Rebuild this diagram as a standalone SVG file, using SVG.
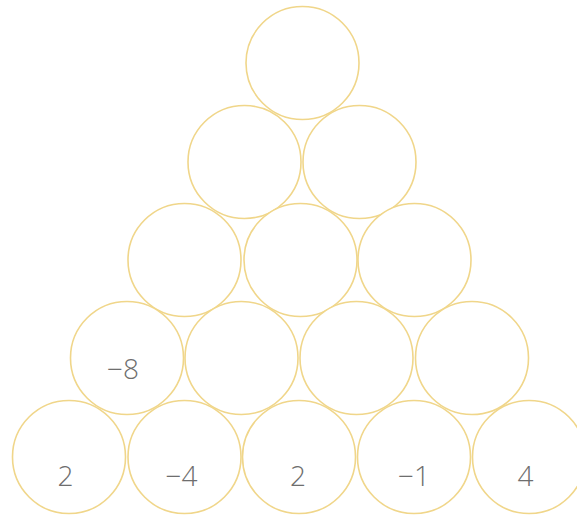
<svg xmlns="http://www.w3.org/2000/svg" width="577" height="517" viewBox="0 0 577 517">
<style>
.c{fill:#fff;stroke:#f0d68a;stroke-width:1.6}
.t{font-family:"Open Sans","Liberation Sans",sans-serif;font-weight:300;font-size:28px;fill:#6e6e6e;text-anchor:middle}
</style>
<rect width="577" height="517" fill="#fff"/>
<g id="r1"><circle class="c" cx="302.5" cy="63" r="56.5"/></g>
<g id="r2a"><circle class="c" cx="244.5" cy="162" r="56.5"/></g>
<g id="r2b"><circle class="c" cx="359.5" cy="162" r="56.5"/></g>
<g id="r3a"><circle class="c" cx="184.5" cy="260" r="56.5"/></g>
<g id="r3b"><circle class="c" cx="300.5" cy="260" r="56.5"/></g>
<g id="r3c"><circle class="c" cx="414.5" cy="260" r="56.5"/></g>
<g id="r4a"><circle class="c" cx="127" cy="358" r="56.5"/><text class="t" x="123" y="379">−8</text></g>
<g id="r4b"><circle class="c" cx="241.5" cy="358" r="56.5"/></g>
<g id="r4c"><circle class="c" cx="356.5" cy="358" r="56.5"/></g>
<g id="r4d"><circle class="c" cx="472" cy="358" r="56.5"/></g>
<g id="r5a"><circle class="c" cx="69" cy="457" r="56.5"/><text class="t" x="65.5" y="486">2</text></g>
<g id="r5b"><circle class="c" cx="184.5" cy="457" r="56.5"/><text class="t" x="181.5" y="486">−4</text></g>
<g id="r5c"><circle class="c" cx="299" cy="457" r="56.5"/><text class="t" x="298" y="486">2</text></g>
<g id="r5d"><circle class="c" cx="414" cy="457" r="56.5"/><text class="t" x="414" y="486">−1</text></g>
<g id="r5e"><circle class="c" cx="529" cy="457" r="56.5"/><text class="t" x="525.5" y="486">4</text></g>
<g id="connectors"></g>
</svg>
